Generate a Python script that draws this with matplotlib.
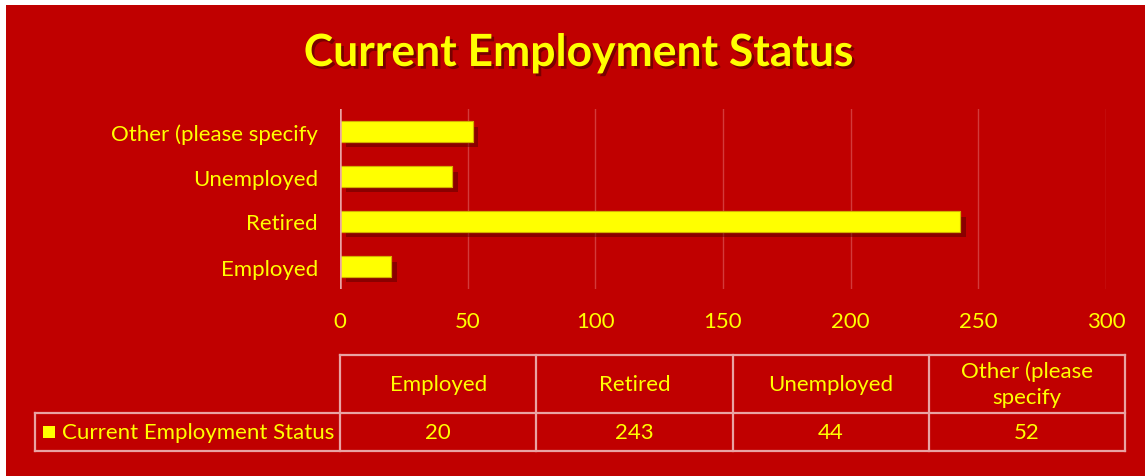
import matplotlib.pyplot as plt
import matplotlib.patheffects as pe
from matplotlib.patches import Rectangle

categories = ["Employed", "Retired", "Unemployed", "Other (please specify"]
header_labels = ["Employed", "Retired", "Unemployed", "Other (please\nspecify"]
values = [20, 243, 44, 52]
series_name = "Current Employment Status"
x_ticks = [0, 50, 100, 150, 200, 250, 300]

RED = "#C00000"
YELLOW = "#FFFF00"
GRID = "#D33A3A"
LINE = "#E9A3A3"
FONT = "Lato"

W, H = 1148, 477


def fx(px):
    return px / W


def fy(py):
    return 1 - py / H


def main():
    fig = plt.figure(figsize=(W / 100, H / 100), dpi=100)
    fig.patch.set_facecolor("white")
    fig.patches.append(Rectangle((fx(6), 0), fx(1145) - fx(6), fy(6),
                                 transform=fig.transFigure, facecolor=RED,
                                 edgecolor="none", zorder=-10))

    fig.text(fx(579), fy(54), series_name, ha="center", va="center",
             color=YELLOW, fontsize=32, fontweight="bold", family=FONT,
             path_effects=[pe.withSimplePatchShadow(offset=(2, -2),
                                                    shadow_rgbFace="#5a0000",
                                                    alpha=0.7)])

    # bar chart
    ax = fig.add_axes([fx(340), fy(290), fx(1106) - fx(340), fy(110) - fy(290)])
    ax.set_facecolor("none")
    pos = range(len(categories))
    ax.barh(pos, values, height=0.45, color=YELLOW, edgecolor="#D4B000",
            linewidth=0.8, zorder=3,
            path_effects=[pe.withSimplePatchShadow(offset=(4, -4),
                                                   shadow_rgbFace="#4a0000",
                                                   alpha=0.45),
                          pe.Normal()])
    ax.set_xlim(0, 300)
    ax.set_ylim(-0.5, len(categories) - 0.5)
    ax.set_xticks(x_ticks)
    ax.set_yticks(list(pos))
    ax.set_yticklabels(categories)
    for x in x_ticks[1:]:
        ax.axvline(x, color=GRID, linewidth=1, zorder=1)
    ax.axvline(0, color=LINE, linewidth=1.8, zorder=4)
    for s in ax.spines.values():
        s.set_visible(False)
    ax.tick_params(length=0, colors=YELLOW, labelsize=16)
    ax.tick_params(axis="x", pad=16)
    ax.tick_params(axis="y", pad=16)
    for lab in ax.get_xticklabels() + ax.get_yticklabels():
        lab.set_family(FONT)

    # data table
    tb = fig.add_axes([0, 0, 1, 1])
    tb.set_xlim(0, W)
    tb.set_ylim(H, 0)
    tb.axis("off")
    col_x = [340 + i * 196.25 for i in range(len(values) + 1)]
    top, mid, bot = 356, 414, 452
    kw = dict(color=LINE, linewidth=1.6)
    tb.plot([col_x[0], col_x[-1]], [top, top], **kw)
    tb.plot([35, col_x[-1]], [mid, mid], **kw)
    tb.plot([35, col_x[-1]], [bot, bot], **kw)
    tb.plot([35, 35], [mid, bot], **kw)
    for x in col_x:
        tb.plot([x, x], [top, bot], **kw)
    for i, (lab, v) in enumerate(zip(header_labels, values)):
        cx = (col_x[i] + col_x[i + 1]) / 2
        tb.text(cx, (top + mid) / 2, lab, ha="center", va="center",
                color=YELLOW, fontsize=16, family=FONT, linespacing=1.4)
        tb.text(cx, (mid + bot) / 2, str(v), ha="center", va="center",
                color=YELLOW, fontsize=16, family=FONT)
    tb.add_patch(Rectangle((43, 427), 12, 12, facecolor=YELLOW, edgecolor="none"))
    tb.text(62, (mid + bot) / 2, series_name, ha="left", va="center",
            color=YELLOW, fontsize=16, family=FONT)

    fig.savefig("out.png", dpi=100)


if __name__ == '__main__':
    main()
